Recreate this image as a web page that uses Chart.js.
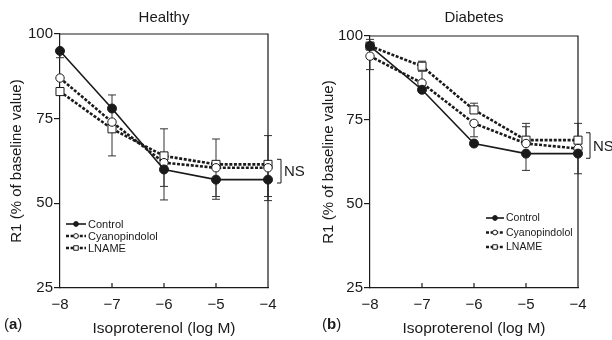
<!DOCTYPE html>
<html lang="en">
<head>
<meta charset="UTF-8" />
<title>R1 response to isoproterenol</title>
<script src="https://cdn.jsdelivr.net/npm/chart.js"></script>
<style>
  html, body { margin: 0; padding: 0; background: #fff; overflow: hidden; }
  .wrap { display: flex; width: 612px; height: 340px; }
  canvas { display: block; }
</style>
</head>
<body>
<div class="wrap">
  <canvas id="healthy" width="306" height="340"></canvas>
  <canvas id="diabetes" width="306" height="340"></canvas>
</div>
<script>
const doses = [-8, -7, -6, -5, -4];
const yTicks = [25, 50, 75, 100];
const seriesNames = ['Control', 'Cyanopindolol', 'LNAME'];

// (a) Healthy
const healthyControl = [95, 78, 60, 57, 57];
const healthyCyano   = [87, 74, 62, 60.5, 60.5];
const healthyLname   = [83, 72, 64, 61.5, 61.5];
const healthyControlUp   = [null, 4, null, null, null];
const healthyControlDown = [2, 4, 9, 5, 5];
const healthyCyanoUp     = [null, null, null, null, null];
const healthyCyanoDown   = [null, 10, 7, 9.3, 9.7];
const healthyLnameUp     = [null, null, 8, 7.5, 8.5];
const healthyLnameDown   = [null, null, null, null, null];

// (b) Diabetes
const diabetesControl = [97, 84, 68, 65, 65];
const diabetesCyano   = [94, 86, 74, 68, 66.5];
const diabetesLname   = [97, 91, 78, 69, 69];
const diabetesControlUp   = [2, null, null, null, null];
const diabetesControlDown = [null, null, null, 5, 6];
const diabetesCyanoUp     = [null, 3.5, null, 5, null];
const diabetesCyanoDown   = [4, null, 4, null, null];
const diabetesLnameUp     = [null, 1.5, 2, 5, 5];
const diabetesLnameDown   = [null, null, null, null, null];

const FONT = '"Liberation Sans", Arial, Helvetica, sans-serif';
const INK = '#1a1a1a';

function pts(vals) { return doses.map((d, i) => ({x: d, y: vals[i]})); }

function makeSets(ctrl, cyano, lname, errs) {
  return [
    { label: seriesNames[0], data: pts(ctrl), errUp: errs[0], errDown: errs[1],
      borderColor: INK, backgroundColor: INK, borderWidth: 1.6,
      pointStyle: 'circle', pointRadius: 4.5, pointBorderWidth: 1, clip: false },
    { label: seriesNames[1], data: pts(cyano), errUp: errs[2], errDown: errs[3],
      borderColor: INK, backgroundColor: '#fff', borderWidth: 2.6, borderDash: [3, 1.6],
      pointStyle: 'circle', pointRadius: 4.2, pointBorderWidth: 1, clip: false },
    { label: seriesNames[2], data: pts(lname), errUp: errs[4], errDown: errs[5],
      borderColor: INK, backgroundColor: '#fff', borderWidth: 2.6, borderDash: [3, 1.6],
      pointStyle: 'rect', pointRadius: 5.7, pointBorderWidth: 1, clip: false }
  ];
}

const errorBars = {
  id: 'errorBars',
  beforeDatasetsDraw(chart) {
    const {ctx, scales: {x, y}} = chart;
    ctx.save();
    ctx.strokeStyle = '#333';
    ctx.lineWidth = 1;
    chart.data.datasets.forEach(ds => {
      ds.data.forEach((p, i) => {
        const px = x.getPixelForValue(p.x);
        [[ds.errUp, 1], [ds.errDown, -1]].forEach(([arr, dir]) => {
          if (!arr || arr[i] == null) return;
          const y0 = y.getPixelForValue(p.y);
          const y1 = y.getPixelForValue(p.y + dir * arr[i]);
          ctx.beginPath();
          ctx.moveTo(px, y0); ctx.lineTo(px, y1);
          ctx.moveTo(px - 4, y1); ctx.lineTo(px + 4, y1);
          ctx.stroke();
        });
      });
    });
    ctx.restore();
  }
};

const frame = {
  id: 'frame',
  beforeDatasetsDraw(chart) {
    const {ctx, chartArea: a, scales: {x}} = chart;
    ctx.save();
    ctx.strokeStyle = INK;
    ctx.lineWidth = 1.2;
    ctx.beginPath();
    ctx.moveTo(a.left, a.top); ctx.lineTo(a.right, a.top); ctx.lineTo(a.right, a.bottom);
    doses.slice(1, -1).forEach(d => {
      const px = x.getPixelForValue(d);
      ctx.moveTo(px, a.bottom); ctx.lineTo(px, a.bottom - 5);
    });
    ctx.stroke();
    ctx.restore();
  }
};

const decor = {
  id: 'decor',
  afterDraw(chart, args, o) {
    const {ctx, chartArea: a, scales: {y}} = chart;
    ctx.save();
    ctx.fillStyle = INK;
    ctx.strokeStyle = INK;
    // panel title
    ctx.font = '15px ' + FONT;
    ctx.textAlign = 'center';
    ctx.textBaseline = 'middle';
    ctx.fillText(o.title, (a.left + a.right) / 2, 17.5);
    // NS bracket
    const bx = a.right + o.nsGap;
    const yHi = y.getPixelForValue(o.ns[0]), yLo = y.getPixelForValue(o.ns[1]);
    ctx.lineWidth = 1;
    ctx.beginPath();
    ctx.moveTo(bx - 4, yHi); ctx.lineTo(bx, yHi); ctx.lineTo(bx, yLo); ctx.lineTo(bx - 4, yLo);
    ctx.stroke();
    ctx.textAlign = 'left';
    ctx.font = '15px ' + FONT;
    ctx.fillText('NS', bx + 3, (yHi + yLo) / 2 + 1);
    // panel tag
    let tx = o.tagX;
    const ty = 325;
    ctx.fillText('(', tx, ty); tx += ctx.measureText('(').width;
    ctx.font = 'bold 15px ' + FONT;
    ctx.fillText(o.tag, tx, ty); tx += ctx.measureText(o.tag).width;
    ctx.font = '15px ' + FONT;
    ctx.fillText(')', tx, ty);
    // legend
    const L = o.legend;
    ctx.font = L.size + 'px ' + FONT;
    chart.data.datasets.forEach((ds, i) => {
      const ly = L.y + i * L.dy;
      ctx.save();
      ctx.lineWidth = ds.borderWidth;
      ctx.setLineDash(ds.borderDash || []);
      ctx.beginPath(); ctx.moveTo(L.x, ly); ctx.lineTo(L.x + L.len, ly); ctx.stroke();
      ctx.restore();
      ctx.save();
      ctx.fillStyle = ds.backgroundColor;
      ctx.lineWidth = 1;
      Chart.helpers.drawPoint(ctx, {pointStyle: ds.pointStyle, radius: ds.pointStyle === 'rect' ? 3.2 : 2.4, rotation: 0, borderWidth: 1},
        L.x + L.len / 2, ly);
      ctx.restore();
      ctx.fillText(ds.label, L.x + L.len + 2, ly + 0.5);
    });
    ctx.restore();
  }
};

function panel(id, datasets, p) {
  return new Chart(document.getElementById(id), {
    type: 'line',
    data: {datasets},
    plugins: [errorBars, frame, decor],
    options: {
      responsive: false,
      animation: false,
      devicePixelRatio: 1,
      layout: {padding: {top: p.padTop, right: p.padRight, left: 0, bottom: 0}},
      plugins: {
        legend: {display: false},
        tooltip: {enabled: false},
        decor: p
      },
      scales: {
        x: {
          type: 'linear', min: -8, max: -4,
          afterFit: s => { s.height = 340 - p.bottom; },
          afterBuildTicks: s => { s.ticks = doses.map(v => ({value: v})); },
          grid: {display: true, drawOnChartArea: false, drawTicks: false},
          border: {display: true, color: INK, width: 1.2},
          ticks: {padding: 8, color: INK, font: {family: FONT, size: 15},
                  callback: v => '\u2212' + Math.abs(v)},
          title: {display: true, text: 'Isoproterenol (log M)', color: INK,
                  font: {family: FONT, size: 15.5}, padding: {top: 0, bottom: 2}}
        },
        y: {
          min: 25, max: 100,
          afterFit: s => { s.width = p.yWidth; },
          afterBuildTicks: s => { s.ticks = yTicks.map(v => ({value: v})); },
          grid: {display: true, drawOnChartArea: false, drawTicks: true, tickLength: 6, color: INK, lineWidth: 1.2},
          border: {display: true, color: INK, width: 1.2},
          ticks: {padding: 1, color: INK, font: {family: FONT, size: 15}},
          title: {display: true, text: 'R1 (% of baseline value)', color: INK,
                  font: {family: FONT, size: 15}, padding: {top: p.yTitlePad, bottom: 0}}
        }
      }
    }
  });
}

panel('healthy',
  makeSets(healthyControl, healthyCyano, healthyLname,
    [healthyControlUp, healthyControlDown, healthyCyanoUp, healthyCyanoDown, healthyLnameUp, healthyLnameDown]),
  {title: 'Healthy', tag: 'a', tagX: 4, ns: [63, 56], nsGap: 13,
   padTop: 34, padRight: 38, bottom: 288, yWidth: 60, yTitlePad: 8,
   legend: {x: 66, y: 224, dy: 12, len: 20, size: 11}});

panel('diabetes',
  makeSets(diabetesControl, diabetesCyano, diabetesLname,
    [diabetesControlUp, diabetesControlDown, diabetesCyanoUp, diabetesCyanoDown, diabetesLnameUp, diabetesLnameDown]),
  {title: 'Diabetes', tag: 'b', tagX: 16, ns: [71.2, 63.6], nsGap: 12,
   padTop: 36, padRight: 34, bottom: 288, yWidth: 64, yTitlePad: 14,
   legend: {x: 180, y: 218, dy: 14.5, len: 18, size: 10.5}});
</script>
</body>
</html>
